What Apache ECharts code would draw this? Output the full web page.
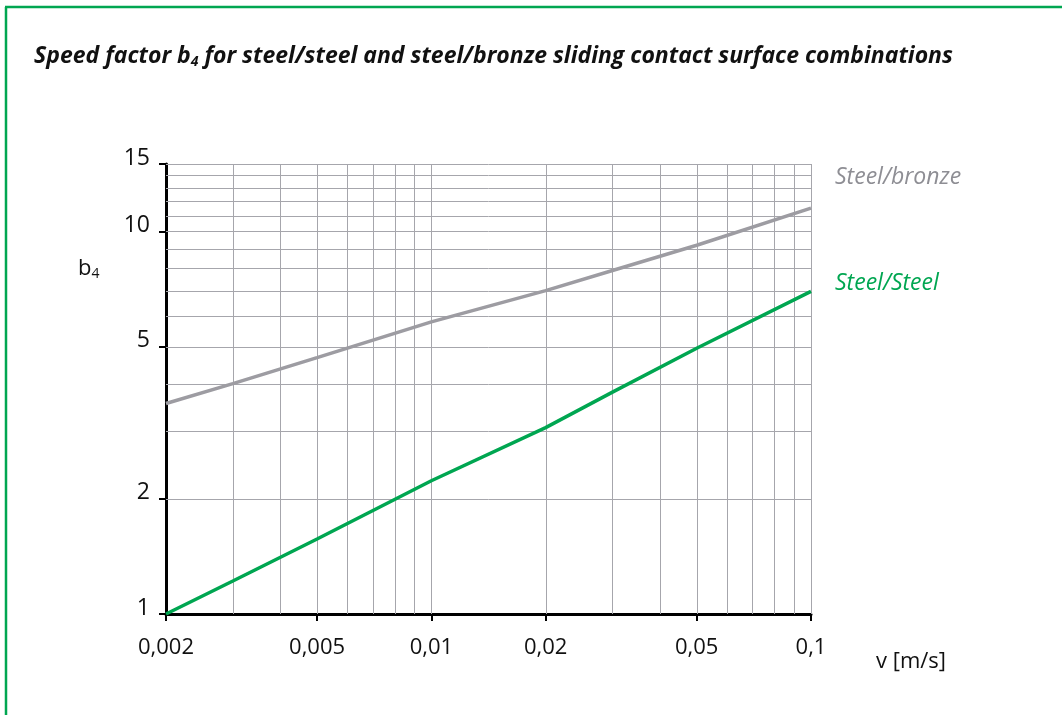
<!DOCTYPE html>
<html>
<head>
<meta charset="utf-8">
<script src="https://cdn.jsdelivr.net/npm/echarts@6/dist/echarts.min.js"></script>
<style>
html,body{margin:0;padding:0;background:#fff;}
#chart{width:1062px;height:715px;}
</style>
</head>
<body>
<div id="chart"></div>
<script>
// ---- data ----
const speeds      = [0.002, 0.003, 0.005, 0.01, 0.02, 0.03, 0.05, 0.1];
const steelBronze = [3.55, 4.0, 4.68, 5.8, 7.0, 7.9, 9.2, 11.5];
const steelSteel  = [1.0, 1.22, 1.57, 2.23, 3.07, 3.8, 4.95, 6.97];
const seriesNames = ['Steel/bronze', 'Steel/Steel'];
const xTickValues = [0.002, 0.005, 0.01, 0.02, 0.05, 0.1];
const xTickLabels = ['0,002', '0,005', '0,01', '0,02', '0,05', '0,1'];
const yTickValues = [1, 2, 5, 10, 15];
const yTickLabels = ['1', '2', '5', '10', '15'];
const xGridValues = [0.003, 0.004, 0.005, 0.006, 0.007, 0.008, 0.009, 0.01,
                     0.02, 0.03, 0.04, 0.05, 0.06, 0.07, 0.08, 0.09, 0.1];
const yGridValues = [2, 3, 4, 5, 6, 7, 8, 9, 10, 11, 12, 13, 14, 15];

const FONT = '"Open Sans", "Noto Sans", sans-serif';
const GREEN = '#00a651';
const GREY = '#9d9ca2';
const GRID = '#a6a6ac';

const chart = echarts.init(document.getElementById('chart'));

function labelFor(values, labels, wrap) {
  return function (v) {
    for (let i = 0; i < values.length; i++) {
      if (Math.abs(v - values[i]) / values[i] < 1e-6) return wrap ? '{v|' + labels[i] + '}' : labels[i];
    }
    return '';
  };
}
function crisp(v) { return Math.round(v) + 0.5; }

const option = {
  animation: false,
  backgroundColor: '#fff',
  title: {
    left: 29, top: 38,
    text: '{a|Speed factor b}{s|4}{a| for steel/steel and steel/bronze sliding contact surface combinations}',
    textStyle: {
      rich: {
        a: { fontFamily: FONT, fontSize: 23, fontWeight: 'bold', fontStyle: 'italic', color: '#111' },
        s: { fontFamily: FONT, fontSize: 14, fontWeight: 'bold', fontStyle: 'italic', color: '#111', padding: [12, 0, 0, 0] }
      }
    }
  },
  graphic: [
    { type: 'line', shape: { x1: 6, y1: 7, x2: 6, y2: 720 }, style: { stroke: GREEN, lineWidth: 2.5 } },
    { type: 'line', shape: { x1: 5, y1: 7, x2: 1070, y2: 7 }, style: { stroke: GREEN, lineWidth: 2.5 } },
    { type: 'text', left: 78, top: 258, style: {
        text: '{b|b}{s|4}', rich: {
          b: { fontFamily: FONT, fontSize: 22, fill: '#111' },
          s: { fontFamily: FONT, fontSize: 14, fill: '#111', padding: [10, 0, 0, 0] }
        } } },
    { type: 'text', left: 876, top: 651, style: { text: 'v [m/s]', fontFamily: FONT, fontSize: 22, fill: '#111' } }
  ],
  grid: { left: 166, right: 251, top: 164, bottom: 101, containLabel: false },
  xAxis: {
    type: 'log', logBase: 10, min: 0.002, max: 0.1,
    axisLine: { show: true, onZero: false, lineStyle: { color: '#000', width: 3 } },
    axisTick: { show: true, customValues: xTickValues, length: 7, inside: false, lineStyle: { color: '#000', width: 2 } },
    axisLabel: { customValues: xTickValues, formatter: labelFor(xTickValues, xTickLabels, false), margin: 23,
                 fontFamily: FONT, fontSize: 22, color: '#111' },
    splitLine: { show: false }, minorTick: { show: false }, minorSplitLine: { show: false }
  },
  yAxis: {
    type: 'log', logBase: 10, min: 1, max: 15,
    axisLine: { show: true, onZero: false, lineStyle: { color: '#000', width: 3 } },
    axisTick: { show: true, customValues: yTickValues, length: 7, inside: false, lineStyle: { color: '#000', width: 2 } },
    axisLabel: { customValues: yTickValues, formatter: labelFor(yTickValues, yTickLabels, true), margin: 16,
                 color: '#111',
                 rich: { v: { fontFamily: FONT, fontSize: 23, color: '#111', lineHeight: 24, padding: [0, 0, 12, 0] } } },
    splitLine: { show: false }, minorTick: { show: false }, minorSplitLine: { show: false }
  },
  series: [
    {
      name: 'xgrid', type: 'custom', silent: true, z: 1,
      data: xGridValues.map(v => [v, 1]),
      encode: { x: 0, y: 1 },
      renderItem: function (params, api) {
        const cs = params.coordSys;
        const p = api.coord([api.value(0), api.value(1)]);
        const x = crisp(p[0]);
        return { type: 'line', shape: { x1: x, y1: cs.y, x2: x, y2: cs.y + cs.height },
                 style: { stroke: GRID, lineWidth: 1 } };
      }
    },
    {
      name: 'ygrid', type: 'custom', silent: true, z: 1,
      data: yGridValues.map(v => [0.002, v]),
      encode: { x: 0, y: 1 },
      renderItem: function (params, api) {
        const cs = params.coordSys;
        const p = api.coord([api.value(0), api.value(1)]);
        const y = crisp(p[1]);
        return { type: 'line', shape: { x1: cs.x, y1: y, x2: cs.x + cs.width, y2: y },
                 style: { stroke: GRID, lineWidth: 1 } };
      }
    },
    {
      name: seriesNames[0], type: 'line', z: 3, showSymbol: false, smooth: false,
      data: speeds.map((v, i) => [v, steelBronze[i]]),
      lineStyle: { color: GREY, width: 3.5 },
      endLabel: { show: true, formatter: seriesNames[0], offset: [16, -31],
                  fontFamily: FONT, fontSize: 23, fontStyle: 'italic', color: '#8e8e94' }
    },
    {
      name: seriesNames[1], type: 'line', z: 3, showSymbol: false, smooth: false,
      data: speeds.map((v, i) => [v, steelSteel[i]]),
      lineStyle: { color: GREEN, width: 3.5 },
      endLabel: { show: true, formatter: seriesNames[1], offset: [16, -8],
                  fontFamily: FONT, fontSize: 23, fontStyle: 'italic', color: GREEN }
    }
  ]
};
chart.setOption(option);
</script>
</body>
</html>
